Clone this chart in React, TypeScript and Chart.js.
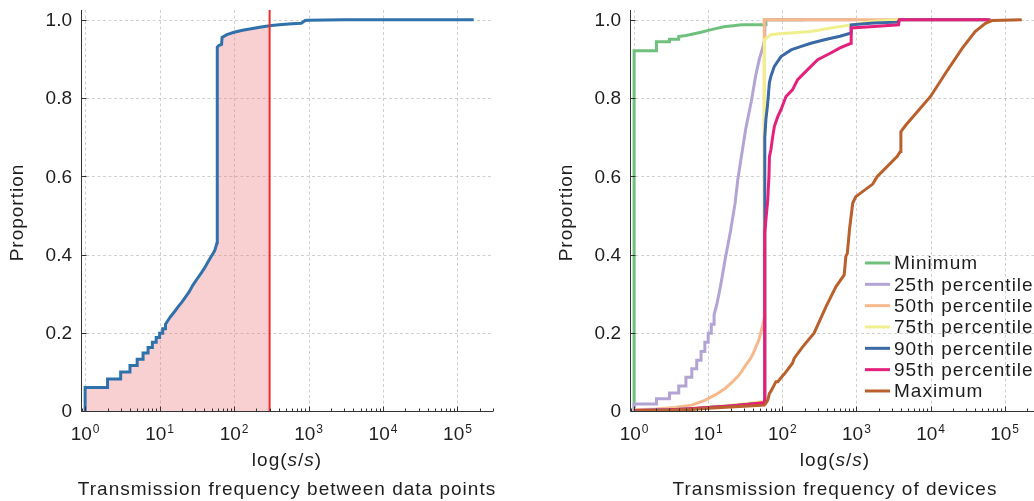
import React, { useEffect, useRef } from 'react';
import { Chart, registerables } from 'chart.js';

Chart.register(...registerables);

// ---------- shared axis settings ----------
const X_MIN = 0.88;
const X_MAX = 3.0e5;
const Y_MAX = 1.025;
const Y_TICKS = [0, 0.2, 0.4, 0.6, 0.8, 1.0];
const X_DECADES = [0, 1, 2, 3, 4, 5];
const X_TITLE = ['log(', 's', '/', 's', ')'];
const X_TITLE_ITALIC = [false, true, false, true, false];
const Y_TITLE = 'Proportion';

// ---------- left chart: between data points ----------
const LEFT_CAPTION = 'Transmission frequency between data points';
const gapX = [1, 1, 2, 2, 3, 3, 4, 4, 5, 5, 6, 6, 7, 7, 8, 8, 9, 9, 10, 10, 11, 11, 12, 12, 13, 14, 16, 18, 20, 22, 25, 28, 32, 36, 40, 45, 50, 55, 58, 59, 59.5, 63, 68, 69, 80, 100, 130, 170, 220, 300, 400, 600, 800, 900, 1000, 3000, 10000, 50000, 165000];
const gapY = [0, 0.06, 0.06, 0.082, 0.082, 0.1, 0.1, 0.116, 0.116, 0.132, 0.132, 0.148, 0.148, 0.162, 0.162, 0.176, 0.176, 0.188, 0.188, 0.199, 0.199, 0.21, 0.21, 0.222, 0.232, 0.241, 0.255, 0.268, 0.279, 0.29, 0.305, 0.322, 0.338, 0.352, 0.365, 0.382, 0.397, 0.41, 0.425, 0.43, 0.93, 0.935, 0.937, 0.955, 0.962, 0.968, 0.973, 0.977, 0.981, 0.985, 0.987, 0.99, 0.991, 0.998, 0.999, 1.0, 1.0, 1.0, 1.0];
const CUTOFF = 300;

// ---------- right chart: devices ----------
const RIGHT_CAPTION = 'Transmission frequency of devices';
const seriesLabels = ['Minimum', '25th percentile', '50th percentile', '75th percentile', '90th percentile', '95th percentile', 'Maximum'];
const seriesColors = ['#6fc07c', '#b3a4d6', '#f7b98b', '#f0ef8e', '#3a69a6', '#e5207c', '#b9602c'];

const minX = [1, 1, 2, 2, 3, 3, 4, 4, 5, 6, 8, 10, 13, 17, 22, 28, 57, 60, 60, 200];
const minY = [0, 0.921, 0.921, 0.944, 0.944, 0.95, 0.95, 0.957, 0.96, 0.963, 0.968, 0.973, 0.978, 0.983, 0.985, 0.987, 0.987, 0.987, 1.0, 1.0];

const p25X = [1, 1, 2, 2, 3, 3, 4, 4, 5, 5, 6, 6, 7, 7, 8, 8, 9, 9, 10, 10, 11, 11, 12, 12, 13, 14, 15, 17, 20, 23, 25, 28, 32, 38, 44, 49, 55, 58, 58, 1000];
const p25Y = [0, 0.018, 0.018, 0.031, 0.031, 0.046, 0.046, 0.064, 0.064, 0.086, 0.086, 0.108, 0.108, 0.13, 0.13, 0.152, 0.152, 0.176, 0.176, 0.199, 0.199, 0.222, 0.222, 0.246, 0.271, 0.3, 0.33, 0.39, 0.46, 0.53, 0.59, 0.65, 0.72, 0.79, 0.86, 0.9, 0.932, 0.95, 1.0, 1.0];

const p50X = [1, 2, 3.5, 6, 9, 13, 17, 20, 25, 28, 32, 36, 40, 44, 48, 51, 54, 57, 57, 3700];
const p50Y = [0.003, 0.005, 0.009, 0.015, 0.027, 0.043, 0.058, 0.07, 0.088, 0.1, 0.117, 0.13, 0.145, 0.164, 0.18, 0.199, 0.216, 0.24, 1.0, 1.0];

const p75X = [1, 3, 6, 10, 20, 35, 57.5, 57.5, 62, 70, 90, 131, 243, 450, 845, 1730, 3800, 60000];
const p75Y = [0.002, 0.004, 0.007, 0.01, 0.015, 0.02, 0.025, 0.949, 0.955, 0.962, 0.964, 0.966, 0.97, 0.979, 0.987, 0.996, 1.0, 1.0];

const p90X = [1, 3, 6, 10, 20, 35, 58, 58, 60, 63, 67, 70, 78, 96, 131, 180, 243, 370, 600, 845, 850, 1730, 3600, 3800, 60000];
const p90Y = [0.001, 0.003, 0.006, 0.009, 0.013, 0.017, 0.02, 0.7, 0.745, 0.78, 0.84, 0.855, 0.881, 0.906, 0.923, 0.932, 0.94, 0.949, 0.958, 0.966, 0.987, 0.992, 0.994, 1.0, 1.0];

const p95X = [1, 3, 6, 10, 20, 35, 58, 58, 60.6, 63.6, 66, 67, 70, 74, 78, 87, 96, 112, 137, 161, 200, 243, 300, 450, 600, 845, 850, 1730, 3700, 3800, 64500];
const p95Y = [0.001, 0.003, 0.006, 0.009, 0.013, 0.017, 0.022, 0.455, 0.497, 0.54, 0.6, 0.65, 0.667, 0.7, 0.727, 0.753, 0.77, 0.804, 0.821, 0.847, 0.865, 0.881, 0.898, 0.915, 0.928, 0.94, 0.979, 0.983, 0.987, 1.0, 1.0];

const maxX = [1, 3, 6, 10, 20, 35, 57, 60, 63.6, 67, 70, 82, 87, 101, 107, 137, 145, 188, 268, 389, 530, 684, 720, 754, 805, 890, 980, 1660, 1900, 3560, 3900, 3980, 4650, 7000, 10000, 16000, 27000, 40000, 55000, 67800, 170000];
const maxY = [0, 0.002, 0.004, 0.007, 0.01, 0.013, 0.015, 0.02, 0.028, 0.045, 0.05, 0.075, 0.075, 0.09, 0.095, 0.122, 0.135, 0.164, 0.199, 0.267, 0.318, 0.348, 0.395, 0.403, 0.463, 0.531, 0.548, 0.58, 0.599, 0.651, 0.663, 0.714, 0.731, 0.77, 0.804, 0.864, 0.928, 0.97, 0.991, 0.998, 1.0];

const seriesX = [minX, p25X, p50X, p75X, p90X, p95X, maxX];
const seriesY = [minY, p25Y, p50Y, p75Y, p90Y, p95Y, maxY];

// ---------- helpers ----------
const FONT = '"Liberation Sans", Arial, Helvetica, sans-serif';
const TEXT = '#1e1e1e';
const AXIS = '#333333';

const pts = (xs: number[], ys: number[]) => xs.map((x, i) => ({ x, y: ys[i] }));

function setSpacing(ctx: any, v: string) {
  try { ctx.letterSpacing = v; } catch (e) { /* ignore */ }
}

function makeDecor(caption: string, legend: boolean) {
  return {
    id: 'decor',
    beforeDatasetsDraw(chart: any) {
      const { ctx, chartArea: a, scales } = chart;
      const xs = scales.x, ys = scales.y;
      ctx.save();
      ctx.strokeStyle = '#c4c4c4';
      ctx.lineWidth = 0.8;
      ctx.setLineDash([3, 2.5]);
      for (const k of X_DECADES) {
        const px = Math.round(xs.getPixelForValue(Math.pow(10, k))) + 0.5;
        if (px < a.left + 1 || px > a.right) continue;
        ctx.beginPath(); ctx.moveTo(px, a.top); ctx.lineTo(px, a.bottom); ctx.stroke();
      }
      for (const v of Y_TICKS) {
        if (v <= 0) continue;
        const py = Math.round(ys.getPixelForValue(v)) + 0.5;
        ctx.beginPath(); ctx.moveTo(a.left, py); ctx.lineTo(a.right, py); ctx.stroke();
      }
      ctx.restore();
    },
    afterDatasetsDraw(chart: any) {
      const { ctx, chartArea: a, scales } = chart;
      const xs = scales.x, ys = scales.y;
      ctx.save();
      ctx.setLineDash([]);
      ctx.strokeStyle = AXIS;
      ctx.lineWidth = 1;
      // spines
      const lx = Math.round(a.left) + 0.5;
      const by = Math.round(a.bottom) + 0.5;
      ctx.beginPath(); ctx.moveTo(lx, a.top); ctx.lineTo(lx, by); ctx.lineTo(a.right, by); ctx.stroke();
      // x ticks (inward), major + minor
      for (let k = -1; k <= 6; k++) {
        for (let m = 1; m <= 9; m++) {
          const v = m * Math.pow(10, k);
          if (v < X_MIN || v > X_MAX) continue;
          const px = Math.round(xs.getPixelForValue(v)) + 0.5;
          const len = m === 1 ? 5 : 3;
          ctx.beginPath(); ctx.moveTo(px, by); ctx.lineTo(px, by - len); ctx.stroke();
        }
      }
      // y ticks (inward)
      for (const v of Y_TICKS) {
        const py = Math.round(ys.getPixelForValue(v)) + 0.5;
        ctx.beginPath(); ctx.moveTo(lx, py); ctx.lineTo(lx + 5, py); ctx.stroke();
      }
      ctx.fillStyle = TEXT;
      // y tick labels
      ctx.font = `19px ${FONT}`;
      ctx.textAlign = 'right';
      ctx.textBaseline = 'middle';
      for (const v of Y_TICKS) {
        const py = ys.getPixelForValue(v);
        ctx.fillText(v === 0 ? '0' : v.toFixed(1), a.left - 9, py + 1);
      }
      // x tick labels 10^k
      ctx.textAlign = 'left';
      ctx.textBaseline = 'alphabetic';
      for (const k of X_DECADES) {
        const px = xs.getPixelForValue(Math.pow(10, k));
        ctx.font = `19px ${FONT}`;
        const wb = ctx.measureText('10').width;
        ctx.font = `12px ${FONT}`;
        const wsup = ctx.measureText(String(k)).width;
        const start = px - (wb + 1 + wsup) / 2;
        ctx.font = `19px ${FONT}`;
        ctx.fillText('10', start, a.bottom + 29);
        ctx.font = `12px ${FONT}`;
        ctx.fillText(String(k), start + wb + 1, a.bottom + 22);
      }
      // x title with italic s
      setSpacing(ctx, '1px');
      const widths: number[] = [];
      X_TITLE.forEach((t, i) => {
        ctx.font = `${X_TITLE_ITALIC[i] ? 'italic ' : ''}19px ${FONT}`;
        widths.push(ctx.measureText(t).width);
      });
      const total = widths.reduce((s, w) => s + w, 0);
      const cx = (a.left + a.right) / 2;
      let x = cx - total / 2;
      X_TITLE.forEach((t, i) => {
        ctx.font = `${X_TITLE_ITALIC[i] ? 'italic ' : ''}19px ${FONT}`;
        ctx.fillText(t, x, a.bottom + 55);
        x += widths[i];
      });
      // caption
      ctx.font = `19px ${FONT}`;
      ctx.textAlign = 'center';
      ctx.fillText(caption, cx, a.bottom + 84);
      // y title
      ctx.save();
      ctx.translate(a.left - 63, (a.top + a.bottom) / 2 + 2);
      ctx.rotate(-Math.PI / 2);
      ctx.textAlign = 'center';
      ctx.textBaseline = 'middle';
      ctx.fillText(Y_TITLE, 0, 0);
      ctx.restore();
      // legend
      if (legend) {
        const x0 = a.left + 235;
        const y0 = a.bottom - 148;
        ctx.textAlign = 'left';
        ctx.textBaseline = 'middle';
        seriesLabels.forEach((lab, i) => {
          const y = y0 + i * 21.33;
          ctx.strokeStyle = seriesColors[i];
          ctx.lineWidth = 3;
          ctx.beginPath(); ctx.moveTo(x0, y); ctx.lineTo(x0 + 25, y); ctx.stroke();
          ctx.fillStyle = TEXT;
          ctx.fillText(lab, x0 + 29, y + 1);
        });
      }
      setSpacing(ctx, '0px');
      ctx.restore();
    },
  };
}

function baseOptions(padRight: number): any {
  return {
    responsive: false,
    devicePixelRatio: 1,
    animation: false,
    events: [],
    layout: { padding: { top: 10, right: padRight, left: 0, bottom: 0 } },
    plugins: { legend: { display: false }, tooltip: { enabled: false } },
    elements: { point: { radius: 0 }, line: { tension: 0 } },
    scales: {
      x: {
        type: 'logarithmic',
        min: X_MIN,
        max: X_MAX,
        ticks: { display: false },
        grid: { display: false },
        border: { display: false },
        afterFit: (s: any) => { s.height = 90; },
      },
      y: {
        type: 'linear',
        min: 0,
        max: Y_MAX,
        ticks: { display: false },
        grid: { display: false },
        border: { display: false },
        afterFit: (s: any) => { s.width = 81; },
      },
    },
  };
}

function leftConfig(): any {
  const curve = pts(gapX, gapY);
  const fillPts = curve.filter((p) => p.x <= CUTOFF);
  return {
    type: 'line',
    data: {
      datasets: [
        {
          label: 'cdf',
          data: curve,
          borderColor: '#2f72ab',
          borderWidth: 3,
          fill: false,
          order: 2,
        },
        {
          label: 'area',
          data: fillPts,
          borderWidth: 0,
          borderColor: 'rgba(0,0,0,0)',
          backgroundColor: 'rgba(235,120,125,0.35)',
          fill: 'origin',
          order: 3,
        },
        {
          label: 'cutoff',
          data: [{ x: CUTOFF, y: 0 }, { x: CUTOFF, y: Y_MAX }],
          borderColor: '#ee2b2b',
          borderWidth: 2,
          fill: false,
          order: 1,
        },
      ],
    },
    options: baseOptions(24),
    plugins: [makeDecor(LEFT_CAPTION, false)],
  };
}

function rightConfig(): any {
  const n = seriesLabels.length;
  return {
    type: 'line',
    data: {
      datasets: seriesLabels.map((lab, i) => ({
        label: lab,
        data: pts(seriesX[i], seriesY[i]),
        borderColor: seriesColors[i],
        borderWidth: 3,
        fill: false,
        order: n - i,
      })),
    },
    options: baseOptions(26),
    plugins: [makeDecor(RIGHT_CAPTION, true)],
  };
}

function ChartCanvas({ make, left }: { make: () => any; left: number }) {
  const ref = useRef<HTMLCanvasElement | null>(null);
  useEffect(() => {
    if (!ref.current) return;
    const chart = new Chart(ref.current, make());
    return () => chart.destroy();
  }, []);
  return (
    <canvas
      ref={ref}
      width={517}
      height={501}
      style={{ position: 'absolute', left, top: 0, width: 517, height: 501 }}
    />
  );
}

export default function App() {
  return (
    <div
      style={{
        position: 'fixed',
        left: 0,
        top: 0,
        width: 1034,
        height: 501,
        overflow: 'hidden',
        background: '#ffffff',
      }}
    >
      <ChartCanvas make={leftConfig} left={0} />
      <ChartCanvas make={rightConfig} left={549} />
    </div>
  );
}
